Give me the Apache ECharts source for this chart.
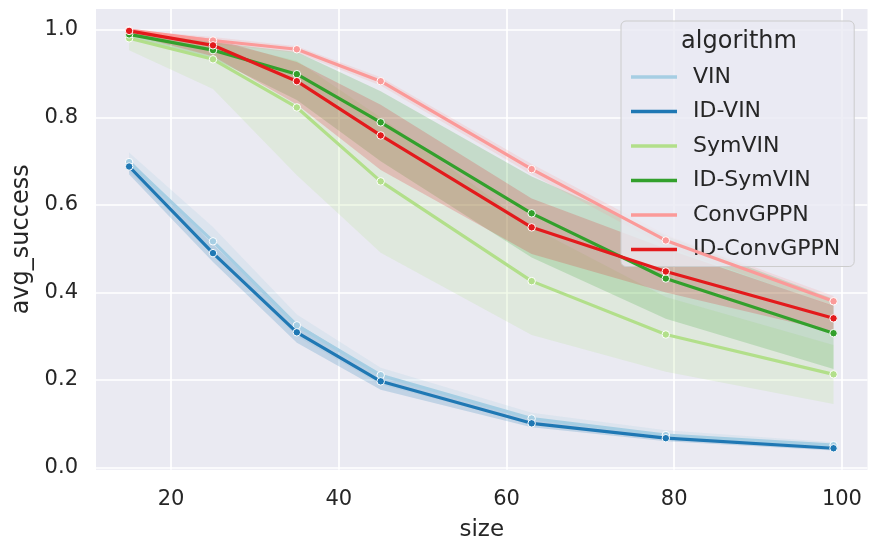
<!DOCTYPE html>
<html>
<head>
<meta charset="utf-8">
<script src="https://cdn.jsdelivr.net/npm/echarts@6/dist/echarts.min.js"></script>
<style>
html,body{margin:0;padding:0;background:#ffffff;}
#chart{width:878px;height:551px;}
</style>
</head>
<body>
<div id="chart"></div>
<script>
// ---- data ----
const sizes = [15, 25, 35, 45, 63, 79, 99];
const algorithms = ['VIN', 'ID-VIN', 'SymVIN', 'ID-SymVIN', 'ConvGPPN', 'ID-ConvGPPN'];
const xTicks = [20, 40, 60, 80, 100];
const yTicks = [0, 0.2, 0.4, 0.6, 0.8, 1.0];

const vinMean = [0.698, 0.517, 0.325, 0.211, 0.112, 0.074, 0.051];
const vinLow  = [0.675, 0.490, 0.300, 0.190, 0.100, 0.065, 0.045];
const vinHigh = [0.720, 0.550, 0.350, 0.228, 0.125, 0.085, 0.058];

const idVinMean = [0.688, 0.490, 0.309, 0.197, 0.101, 0.067, 0.044];
const idVinLow  = [0.670, 0.470, 0.285, 0.178, 0.092, 0.060, 0.039];
const idVinHigh = [0.705, 0.510, 0.330, 0.212, 0.110, 0.074, 0.050];

const symVinMean = [0.981, 0.933, 0.823, 0.654, 0.426, 0.304, 0.213];
const symVinLow  = [0.954, 0.865, 0.668, 0.491, 0.303, 0.219, 0.145];
const symVinHigh = [0.995, 0.975, 0.930, 0.800, 0.550, 0.390, 0.280];

const idSymVinMean = [0.990, 0.954, 0.899, 0.789, 0.581, 0.432, 0.307];
const idSymVinLow  = [0.980, 0.935, 0.840, 0.700, 0.480, 0.340, 0.225];
const idSymVinHigh = [1.000, 0.972, 0.950, 0.860, 0.665, 0.530, 0.385];

const convGppnMean = [1.000, 0.976, 0.956, 0.883, 0.682, 0.519, 0.380];
const convGppnLow  = [0.995, 0.968, 0.948, 0.873, 0.670, 0.505, 0.368];
const convGppnHigh = [1.000, 0.984, 0.963, 0.892, 0.694, 0.532, 0.392];

const idConvGppnMean = [0.998, 0.965, 0.883, 0.759, 0.549, 0.448, 0.341];
const idConvGppnLow  = [0.990, 0.940, 0.830, 0.680, 0.488, 0.400, 0.310];
const idConvGppnHigh = [1.000, 0.980, 0.927, 0.829, 0.615, 0.500, 0.370];

// ---- styles ----
const palette = ['#a6cee3', '#1f78b4', '#b2df8a', '#33a02c', '#fb9a99', '#e31a1c'];
const textColor = '#262626';
const font = 'DejaVu Sans';

const means = [vinMean, idVinMean, symVinMean, idSymVinMean, convGppnMean, idConvGppnMean];
const lows  = [vinLow, idVinLow, symVinLow, idSymVinLow, convGppnLow, idConvGppnLow];
const highs = [vinHigh, idVinHigh, symVinHigh, idSymVinHigh, convGppnHigh, idConvGppnHigh];

function bandRenderer(i) {
  return function (params, api) {
    if (params.dataIndex !== 0) return null;
    const n = sizes.length;
    const pts = [];
    for (let j = 0; j < n; j++) pts.push(api.coord([sizes[j], highs[i][j]]));
    for (let j = n - 1; j >= 0; j--) pts.push(api.coord([sizes[j], lows[i][j]]));
    return {
      type: 'polygon',
      shape: { points: pts },
      style: { fill: palette[i], opacity: 0.2 },
      silent: true
    };
  };
}

const series = [];
algorithms.forEach((name, i) => {
  series.push({
    type: 'custom', name: name + ' band',
    data: sizes.map((x, j) => [x, lows[i][j], highs[i][j]]),
    encode: { x: 0, y: [1, 2] },
    renderItem: bandRenderer(i),
    silent: true, z: 1
  });
});
algorithms.forEach((name, i) => {
  series.push({
    type: 'line', name: name,
    data: sizes.map((x, j) => [x, means[i][j]]),
    symbol: 'circle', symbolSize: 7.5, showSymbol: true,
    lineStyle: { color: palette[i], width: 3.2 },
    itemStyle: { color: palette[i], borderColor: '#ffffff', borderWidth: 1 },
    z: 3 + i, emphasis: { disabled: true }
  });
});

const chart = echarts.init(document.getElementById('chart'), null, { renderer: 'canvas' });
chart.setOption({
  animation: false,
  backgroundColor: '#ffffff',
  textStyle: { fontFamily: font, color: textColor },
  grid: { left: 96, right: 10.5, top: 9, bottom: 81.3, show: true, backgroundColor: '#eaeaf2', borderWidth: 0 },
  xAxis: {
    type: 'value', min: 11.05, max: 103.05,
    name: 'size', nameLocation: 'middle', nameGap: 49,
    nameTextStyle: { fontSize: 23, color: textColor, fontFamily: font },
    axisLine: { show: false },
    axisTick: { show: false, customValues: xTicks },
    axisLabel: { customValues: xTicks, fontSize: 21, color: textColor, fontFamily: font, margin: 19 },
    splitLine: { show: true, lineStyle: { color: '#ffffff', width: 1.7 } }
  },
  yAxis: {
    type: 'value', min: -0.005, max: 1.048,
    name: 'avg_success', nameLocation: 'middle', nameGap: 60,
    nameTextStyle: { fontSize: 24, color: textColor, fontFamily: font },
    axisLine: { show: false },
    axisTick: { show: false, customValues: yTicks },
    axisLabel: { customValues: yTicks, fontSize: 21, color: textColor, fontFamily: font, margin: 18,
      formatter: v => v.toFixed(1) },
    splitLine: { show: true, lineStyle: { color: '#ffffff', width: 1.7 } }
  },
  legend: {
    data: algorithms,
    orient: 'vertical', left: 621, top: 21,
    padding: [45, 14, 6, 10],
    itemGap: 12.5, itemWidth: 46, itemHeight: 3.5,
    icon: 'rect',
    itemStyle: { borderWidth: 0 },
    backgroundColor: 'rgba(234,234,242,0.8)',
    borderColor: '#cccccc', borderWidth: 1, borderRadius: 5,
    textStyle: { fontSize: 22, color: textColor, fontFamily: font, padding: [0, 0, 0, 11] },
    selectedMode: false
  },
  graphic: [{
    type: 'text', x: 739, y: 42, z: 100,
    style: { text: 'algorithm', fontSize: 24, fill: textColor, fontFamily: font,
      textAlign: 'center', textVerticalAlign: 'middle' }
  }],
  series: series
});
</script>
</body>
</html>
